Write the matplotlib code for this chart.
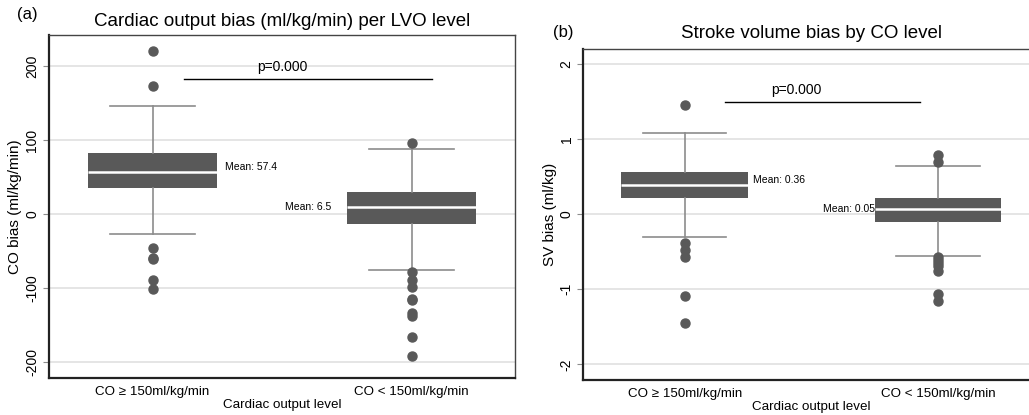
import matplotlib
matplotlib.use("Agg")
import matplotlib.pyplot as plt

plt.rcParams['font.family'] = ['Liberation Sans', 'DejaVu Sans']

# Group labels
groups = ["CO \u2265 150ml/kg/min", "CO < 150ml/kg/min"]

# Panel (a): cardiac output bias (ml/kg/min)
co_q1 = [35.6, -13.9]
co_med = [57.1, 9.8]
co_q3 = [82.0, 29.6]
co_whislo = [-26.5, -76.4]
co_whishi = [146.6, 87.7]
co_fliers = [
    [221, 172.6, -46, -59, -61, -89, -101],
    [96, -78.6, -89, -98.8, -114.6, -116, -133.9, -138, -166, -191.6],
]
co_means = [57.4, 6.5]
co_p = "p=0.000"

# Panel (b): stroke volume bias (ml/kg)
sv_q1 = [0.222, -0.098]
sv_med = [0.39, 0.07]
sv_q3 = [0.568, 0.21]
sv_whislo = [-0.297, -0.555]
sv_whishi = [1.079, 0.64]
sv_fliers = [
    [1.455, -0.378, -0.475, -0.564, -1.09, -1.45],
    [0.79, 0.69, -0.564, -0.606, -0.65, -0.69, -0.76, -1.06, -1.16],
]
sv_means = [0.36, 0.05]
sv_p = "p=0.000"

BOX = "#595959"
WHISK = "#8c8c8c"
GRID = "#e3e3e3"


def draw_panel(ax, q1, med, q3, lo, hi, fliers, means, fmt, ylim, yticks,
               ylabel, title, title_pad, ptext, pline_y, pline_x, ptext_x,
               label_y, label_gap, tag, tag_xy):
    stats = []
    for i in range(2):
        stats.append(dict(q1=q1[i], med=med[i], q3=q3[i], whislo=lo[i],
                          whishi=hi[i], fliers=fliers[i]))
    ax.bxp(stats, positions=[1, 2], widths=0.5, capwidths=0.33,
           patch_artist=True, showfliers=True,
           boxprops=dict(facecolor=BOX, edgecolor=BOX, linewidth=0),
           medianprops=dict(color="white", linewidth=1.8),
           whiskerprops=dict(color=WHISK, linewidth=1.2),
           capprops=dict(color=WHISK, linewidth=1.2),
           flierprops=dict(marker="o", markerfacecolor=BOX,
                           markeredgecolor=BOX, markersize=6.5))
    ax.set_xlim(0.6, 2.4)
    ax.set_ylim(*ylim)
    ax.set_yticks(yticks)
    ax.set_yticklabels([str(t) for t in yticks], rotation=90, va="center",
                       fontsize=10)
    ax.yaxis.grid(True, color=GRID, linewidth=1.3)
    ax.set_axisbelow(True)
    ax.set_xticks([1, 2])
    ax.set_xticklabels(groups, fontsize=9.6)
    ax.tick_params(axis="x", length=0, pad=6)
    ax.tick_params(axis="y", length=4, color=WHISK, pad=3)
    ax.set_xlabel("Cardiac output level", fontsize=9.6, labelpad=1)
    ax.set_ylabel(ylabel, fontsize=11, labelpad=2)
    ax.set_title(title, fontsize=13.5, pad=title_pad)
    for side in ("left", "bottom"):
        ax.spines[side].set_linewidth(1.6)
        ax.spines[side].set_color("#222222")
    for side in ("top", "right"):
        ax.spines[side].set_linewidth(1.0)
        ax.spines[side].set_color("#444444")

    # mean annotations beside each box
    ax.text(1.25 + label_gap[0], label_y[0], "Mean: " + fmt.format(means[0]),
            fontsize=7.5, ha="left", va="center")
    ax.text(1.75 - label_gap[1], label_y[1], "Mean: " + fmt.format(means[1]),
            fontsize=7.5, ha="right", va="center")

    # significance bar
    ax.plot(pline_x, [pline_y, pline_y], color="black", linewidth=1)
    ax.annotate(ptext, (ptext_x, pline_y), xytext=(0, 3.5),
                textcoords="offset points", fontsize=10, ha="center",
                va="bottom")
    ax.figure.text(tag_xy[0], tag_xy[1], tag, fontsize=12, ha="center",
                   va="center")


fig = plt.figure(figsize=(10.29, 4.15), dpi=100)
W, H = 1029, 415
ax_a = fig.add_axes([49 / W, 1 - 377.7 / H, (515.3 - 49) / W, (377.7 - 34.7) / H])
ax_b = fig.add_axes([583.3 / W, 1 - 379.5 / H, (1039.3 - 583.3) / W, (379.5 - 49.3) / H])

draw_panel(ax_a, co_q1, co_med, co_q3, co_whislo, co_whishi, co_fliers,
           co_means, "{:.1f}", (-221.6, 242.7), [-200, -100, 0, 100, 200],
           "CO bias (ml/kg/min)", "Cardiac output bias (ml/kg/min) per LVO level",
           6, co_p, 183, [1.12, 2.08], 1.50, [63.5, 9.5], [0.031, 0.062],
           "(a)", (27 / W, 1 - 14 / H))

draw_panel(ax_b, sv_q1, sv_med, sv_q3, sv_whislo, sv_whishi, sv_fliers,
           sv_means, "{:.2f}", (-2.2, 2.195), [-2, -1, 0, 1, 2],
           "SV bias (ml/kg)", "Stroke volume bias by CO level",
           8, sv_p, 1.5, [1.16, 1.93], 1.44, [0.46, 0.07], [0.018, 0.0],
           "(b)", (563 / W, 1 - 33 / H))

fig.savefig("out.png", dpi=100)
